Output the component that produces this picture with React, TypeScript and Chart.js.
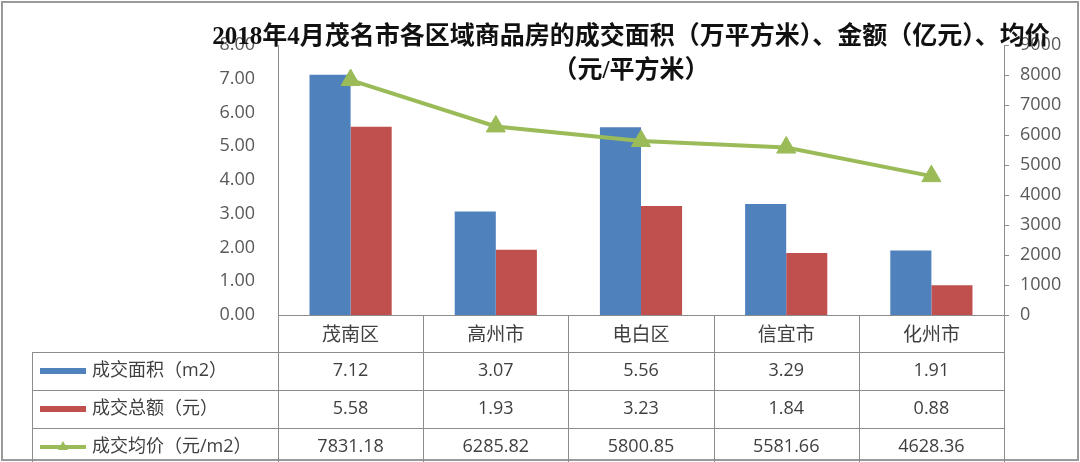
import React, { useEffect, useRef } from 'react';
import { Chart, registerables } from 'chart.js';

Chart.register(...registerables);

// ---------- data ----------
const categories = ['茂南区', '高州市', '电白区', '信宜市', '化州市'];
const areaValues = [7.12, 3.07, 5.56, 3.29, 1.91];
const amountValues = [5.58, 1.93, 3.23, 1.84, 0.88];
const priceValues = [7831.18, 6285.82, 5800.85, 5581.66, 4628.36];
const seriesNames = ['成交面积（m2）', '成交总额（元）', '成交均价（元/m2）'];
const titleLines = [
  '2018年4月茂名市各区域商品房的成交面积（万平方米）、金额（亿元）、均价',
  '（元/平方米）',
];
const leftAxisMax = 8;
const leftAxisStep = 1;
const rightAxisMax = 9000;
const rightAxisStep = 1000;

// ---------- styles ----------
const BLUE = '#4F81BD';
const RED = '#C0504D';
const GREEN = '#9BBB59';
const GRID = '#8c8c8c';
const TEXT = '#404040';
const LATIN = '"Open Sans", "Noto Sans CJK SC", sans-serif';

const framePlugin = {
  id: 'frame',
  beforeDraw(chart: any) {
    const { ctx, width, height } = chart;
    ctx.save();
    ctx.fillStyle = '#ffffff';
    ctx.fillRect(0, 0, width, height);
    ctx.restore();
  },
  afterDraw(chart: any) {
    const { ctx, width, height } = chart;
    ctx.save();
    ctx.strokeStyle = '#9a9a9a';
    ctx.lineWidth = 2;
    ctx.strokeRect(2, 2, width - 4, height - 4);
    ctx.restore();
  },
};

const titlePlugin = {
  id: 'customTitle',
  afterDraw(chart: any) {
    const { ctx } = chart;
    ctx.save();
    ctx.fillStyle = '#111111';
    ctx.font = 'bold 25px "Liberation Serif", "Noto Sans CJK SC", serif';
    ctx.textAlign = 'center';
    ctx.textBaseline = 'middle';
    ctx.fillText(titleLines[0], 631, 38);
    ctx.fillText(titleLines[1], 631, 72);
    ctx.restore();
  },
};

const tablePlugin = {
  id: 'dataTable',
  afterDraw(chart: any) {
    const { ctx, chartArea, scales } = chart;
    const xs = scales.x;
    const n = categories.length;
    const left = chartArea.left;
    const right = chartArea.right;
    const colW = (right - left) / n;
    const top = chartArea.bottom;
    const headerH = 37;
    const rowH = 38;
    const tableLeft = 32;
    const bottom = chart.height;
    const p = (v: number) => Math.round(v) + 0.5;

    ctx.save();
    ctx.strokeStyle = GRID;
    ctx.lineWidth = 1;
    ctx.beginPath();
    for (let r = 0; r < 3; r++) {
      const y = p(top + headerH + r * rowH);
      ctx.moveTo(tableLeft, y);
      ctx.lineTo(right, y);
    }
    for (let i = 0; i <= n; i++) {
      const x = p(left + i * colW);
      ctx.moveTo(x, top);
      ctx.lineTo(x, bottom);
    }
    ctx.moveTo(p(tableLeft), top + headerH);
    ctx.lineTo(p(tableLeft), bottom);
    ctx.stroke();

    const rows = [areaValues, amountValues, priceValues];
    ctx.font = '18px ' + LATIN;
    ctx.fillStyle = TEXT;
    ctx.textBaseline = 'middle';
    for (let r = 0; r < 3; r++) {
      const yc = top + headerH + r * rowH + rowH / 2;
      // legend key
      if (r === 0 || r === 1) {
        ctx.fillStyle = r === 0 ? BLUE : RED;
        ctx.fillRect(40, yc - 3, 46, 6);
      } else {
        ctx.strokeStyle = GREEN;
        ctx.lineWidth = 4;
        ctx.beginPath();
        ctx.moveTo(40, yc);
        ctx.lineTo(86, yc);
        ctx.stroke();
        ctx.fillStyle = GREEN;
        ctx.beginPath();
        ctx.moveTo(63, yc - 6);
        ctx.lineTo(68, yc + 3);
        ctx.lineTo(58, yc + 3);
        ctx.closePath();
        ctx.fill();
      }
      ctx.fillStyle = TEXT;
      ctx.textAlign = 'left';
      ctx.fillText(seriesNames[r], 92, yc);
      ctx.textAlign = 'center';
      rows[r].forEach((v, i) => {
        ctx.fillText(v.toFixed(2), xs.getPixelForValue(i), yc);
      });
    }
    ctx.restore();
  },
};

export default function App() {
  const ref = useRef<HTMLCanvasElement | null>(null);

  useEffect(() => {
    if (!ref.current) return;
    const chart = new Chart(ref.current, {
      type: 'bar',
      data: {
        labels: categories,
        datasets: [
          {
            type: 'line',
            label: seriesNames[2],
            data: priceValues,
            yAxisID: 'y1',
            borderColor: GREEN,
            backgroundColor: GREEN,
            borderWidth: 4,
            pointStyle: 'triangle',
            pointRadius: 11,
            pointBorderWidth: 1,
            tension: 0,
            order: 0,
          } as any,
          {
            type: 'bar',
            label: seriesNames[0],
            data: areaValues,
            yAxisID: 'y',
            backgroundColor: BLUE,
            order: 1,
            categoryPercentage: 0.566,
            barPercentage: 1,
          },
          {
            type: 'bar',
            label: seriesNames[1],
            data: amountValues,
            yAxisID: 'y',
            backgroundColor: RED,
            order: 1,
            categoryPercentage: 0.566,
            barPercentage: 1,
          },
        ],
      },
      options: {
        responsive: false,
        animation: false,
        devicePixelRatio: 1,
        layout: { padding: { top: 45, left: 0, right: 0, bottom: 0 } },
        plugins: {
          legend: { display: false },
          title: { display: false },
          tooltip: { enabled: false },
        },
        scales: {
          x: {
            grid: { display: false, drawTicks: false },
            border: { display: true, color: GRID, width: 1 },
            ticks: {
              color: TEXT,
              padding: 7,
              font: { family: '"Noto Sans CJK SC", sans-serif', size: 19 },
              maxRotation: 0,
            },
            afterFit: (s: any) => {
              s.height = 147;
            },
          },
          y: {
            position: 'left',
            min: 0,
            max: leftAxisMax,
            grid: { display: false, drawTicks: false },
            border: { display: true, color: GRID, width: 1 },
            ticks: {
              stepSize: leftAxisStep,
              color: '#595959',
              padding: 23,
              font: { family: LATIN, size: 18 },
              callback: (v: any) => Number(v).toFixed(2),
            },
            afterFit: (s: any) => {
              s.width = 278;
            },
          },
          y1: {
            position: 'right',
            min: 0,
            max: rightAxisMax,
            grid: { display: true, drawOnChartArea: false, drawTicks: true, tickLength: 5, color: GRID },
            border: { display: true, color: GRID, width: 1 },
            ticks: {
              stepSize: rightAxisStep,
              color: '#595959',
              padding: 11,
              font: { family: LATIN, size: 18 },
              callback: (v: any) => String(Math.round(Number(v))),
            },
            afterFit: (s: any) => {
              s.width = 76;
            },
          },
        },
      },
      plugins: [framePlugin, tablePlugin, titlePlugin],
    });
    return () => chart.destroy();
  }, []);

  return (
    <div style={{ position: 'fixed', left: 0, top: 0, width: 1080, height: 462 }}>
      <canvas ref={ref} width={1080} height={462} style={{ width: 1080, height: 462 }} />
    </div>
  );
}
